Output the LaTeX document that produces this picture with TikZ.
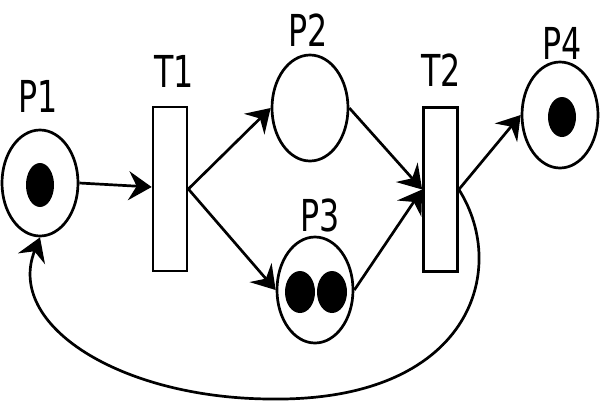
\documentclass[tikz,border=0pt]{standalone}
\usepackage{fontspec}
\setmainfont{DejaVu Sans}
\usetikzlibrary{shapes.geometric,arrows.meta}
\tikzset{
  place/.style={draw, ellipse, line width=2.7pt, minimum width=76pt, minimum height=106pt, inner sep=0pt, fill=white},
  trans/.style={draw, rectangle, line width=2.7pt, minimum width=34pt, minimum height=164pt, inner sep=0pt, fill=white},
  lbl/.style={inner sep=0pt, xscale=0.72, font=\fontsize{44}{50}\selectfont},
  arc/.style={line width=2.7pt, -{Stealth[length=23pt, width=29pt, inset=8pt]}},
  token/.style={fill=black}
}
\begin{document}
\begin{tikzpicture}[x=1pt,y=-1pt]
\useasboundingbox (0,0) rectangle (600,400);
\fill[white] (0,0) rectangle (600,400);
% places
\node[place] (p1) at (40,183) {};
\node[place] (p2) at (310,108) {};
\node[place] (p3) at (315,290) {};
\node[place] (p4) at (560,115) {};
% transitions
\node[trans] (t1) at (170,189) {};
\node[trans] (t2) at (440.5,189.5) {};
% labels
\node[lbl] (lp1) at (38,96) {P1};
\node[lbl] (lt1) at (174,71) {T1};
\node[lbl] (lp2) at (308,30) {P2};
\node[lbl] (lt2) at (441,70) {T2};
\node[lbl] (lp3) at (320,215) {P3};
\node[lbl] (lp4) at (562,43) {P4};
% tokens
\fill[token] (40,185) ellipse [x radius=14pt, y radius=22pt];
\fill[token] (562,117) ellipse [x radius=14pt, y radius=20pt];
\fill[token] (300,292) ellipse [x radius=15pt, y radius=21pt];
\fill[token] (332,292) ellipse [x radius=15pt, y radius=21pt];
% arcs
\draw[arc] (p1.east) -- ([yshift=2pt]t1.west);
\draw[arc] (t1.east) -- (p2.west);
\draw[arc] (t1.east) -- (p3.west);
\draw[arc] (p2.east) -- (t2.west);
\draw[arc] (p3.east) -- (t2.west);
\draw[arc] (t2.east) -- (p4.west);
\draw[arc] (t2.east) .. controls (510,270) and (470,402) .. (270,399)
  .. controls (120,398) and (5,325) .. (p1.south);
\end{tikzpicture}
\end{document}
